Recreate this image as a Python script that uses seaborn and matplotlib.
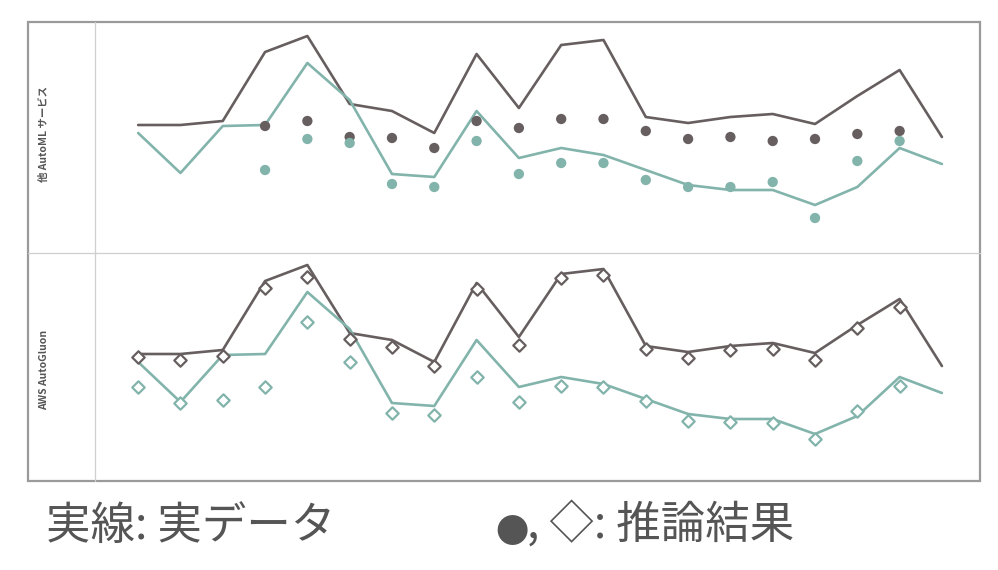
"""
Actual vs inferred values: other AutoML services (top) and AWS AutoGluon (bottom)
"""

## Import packages
import pandas as pd
import matplotlib.pyplot as plt
from matplotlib.patches import Rectangle
from matplotlib.lines import Line2D
import seaborn as sns


## Data
# 20 time steps
steps = list(range(20))

# Actual data (solid lines), same for both panels
actual_dark = [128, 128, 132, 201, 217, 149, 142, 120, 199, 145,
               208, 213, 136, 130, 136, 139, 129, 157, 183, 116]
actual_teal = [120, 80, 127, 128, 190, 153, 79, 76, 142, 95,
               105, 98, 83, 68, 63, 63, 48, 66, 105, 89]

# Other AutoML services inference (dots), steps 3..18
other_steps = list(range(3, 19))
other_dark = [127, 132, 116, 115, 105, 132, 125, 134,
              134, 122, 114, 116, 112, 114, 119, 122]
other_teal = [83, 114, 110, 69, 66, 112, 79, 90,
              90, 73, 66, 66, 71, 35, 92, 112]

# AWS AutoGluon inference (diamonds), steps 0..18
aws_steps = list(range(19))
aws_dark = [125, 122, 126, 194, 205, 143, 135, 116, 193, 137,
            204, 207, 133, 124, 132, 133, 122, 154, 175]
aws_teal = [95, 79, 82, 95, 160, 120, 69, 67, 105, 80,
            96, 95, 81, 61, 60, 59, 43, 71, 96]

row_labels = ["他 AutoML サービス", "AWS AutoGluon"]
note_left = "実線: 実データ"
note_dot = "●"
note_right = ", ◇: 推論結果"

# Colours
dark = '#675f5f'
teal = '#82b4ac'


## Build tables
df_actual = pd.DataFrame({'step': steps * 2,
                          'value': actual_dark + actual_teal,
                          'series': ['dark'] * 20 + ['teal'] * 20})
df_other = pd.DataFrame({'step': other_steps * 2,
                         'value': other_dark + other_teal,
                         'series': ['dark'] * 16 + ['teal'] * 16})
df_aws = pd.DataFrame({'step': aws_steps * 2,
                       'value': aws_dark + aws_teal,
                       'series': ['dark'] * 19 + ['teal'] * 19})
pal = {'dark': dark, 'teal': teal}


## Create figure
sns.set_theme(style='white')
plt.rcParams['font.family'] = ['Noto Sans CJK JP', 'DejaVu Sans']

W, H = 998, 570
fig = plt.figure(figsize=(W / 100, H / 100), dpi=100)


def fbox(x0, y0, x1, y1):
    # pixel box (top-left origin) -> figure fraction [l, b, w, h]
    return [x0 / W, (H - y1) / H, (x1 - x0) / W, (y1 - y0) / H]


ax_top = fig.add_axes(fbox(95, 22, 980, 253))
ax_bot = fig.add_axes(fbox(95, 253, 980, 482))

# Top panel: lines + dots
sns.lineplot(ax=ax_top, data=df_actual, x='step', y='value', hue='series',
             palette=pal, linewidth=1.9, legend=False)
sns.scatterplot(ax=ax_top, data=df_other, x='step', y='value', hue='series',
                palette=pal, marker='o', s=55, linewidth=0, legend=False, zorder=3)

# Bottom panel: lines + diamonds
sns.lineplot(ax=ax_bot, data=df_actual, x='step', y='value', hue='series',
             palette=pal, linewidth=1.9, legend=False)
for name, col in pal.items():
    sub = df_aws[df_aws['series'] == name]
    sns.scatterplot(ax=ax_bot, data=sub, x='step', y='value', marker='D', s=40,
                    facecolor='white', edgecolor=col, linewidth=1.6,
                    legend=False, zorder=3)

# Axis cosmetics
for ax, ylim in [(ax_top, (0, 231)), (ax_bot, (0, 229))]:
    ax.set_xlim(-1.02, 19.9)
    ax.set_ylim(*ylim)
    ax.set_xticks([])
    ax.set_yticks([])
    ax.set_xlabel('')
    ax.set_ylabel('')
    for s in ax.spines.values():
        s.set_visible(False)

# Frame and dividers drawn on figure
fig.add_artist(Rectangle((28 / W, (H - 481) / H), (980 - 28) / W, (481 - 22) / H,
                         transform=fig.transFigure, fill=False,
                         edgecolor='#9a9a9a', linewidth=1.6))
fig.add_artist(Line2D([95 / W, 95 / W], [(H - 481) / H, (H - 22) / H],
                      transform=fig.transFigure, color='#cfcfcf', linewidth=0.9))
fig.add_artist(Line2D([28 / W, 980 / W], [(H - 253) / H, (H - 253) / H],
                      transform=fig.transFigure, color='#cfcfcf', linewidth=0.9))

# Row labels
fig.text(44 / W, (H - 134) / H, row_labels[0], rotation=90, ha='center', va='center',
         fontsize=7.5, fontweight='bold', color='#555555')
fig.text(44 / W, (H - 370) / H, row_labels[1], rotation=90, ha='center', va='center',
         fontsize=7.5, fontweight='bold', color='#555555')

# Notes below the chart
fig.text(46 / W, (H - 539) / H, note_left, ha='left', va='baseline',
         fontsize=32, color='#555555')
fig.text(495 / W, (H - 543) / H, note_dot, ha='left', va='baseline',
         fontsize=24, color='#555555')
fig.text(527 / W, (H - 539) / H, note_right, ha='left', va='baseline',
         fontsize=32, color='#555555')

# Save figure
fig.savefig('out.png', dpi=100)
